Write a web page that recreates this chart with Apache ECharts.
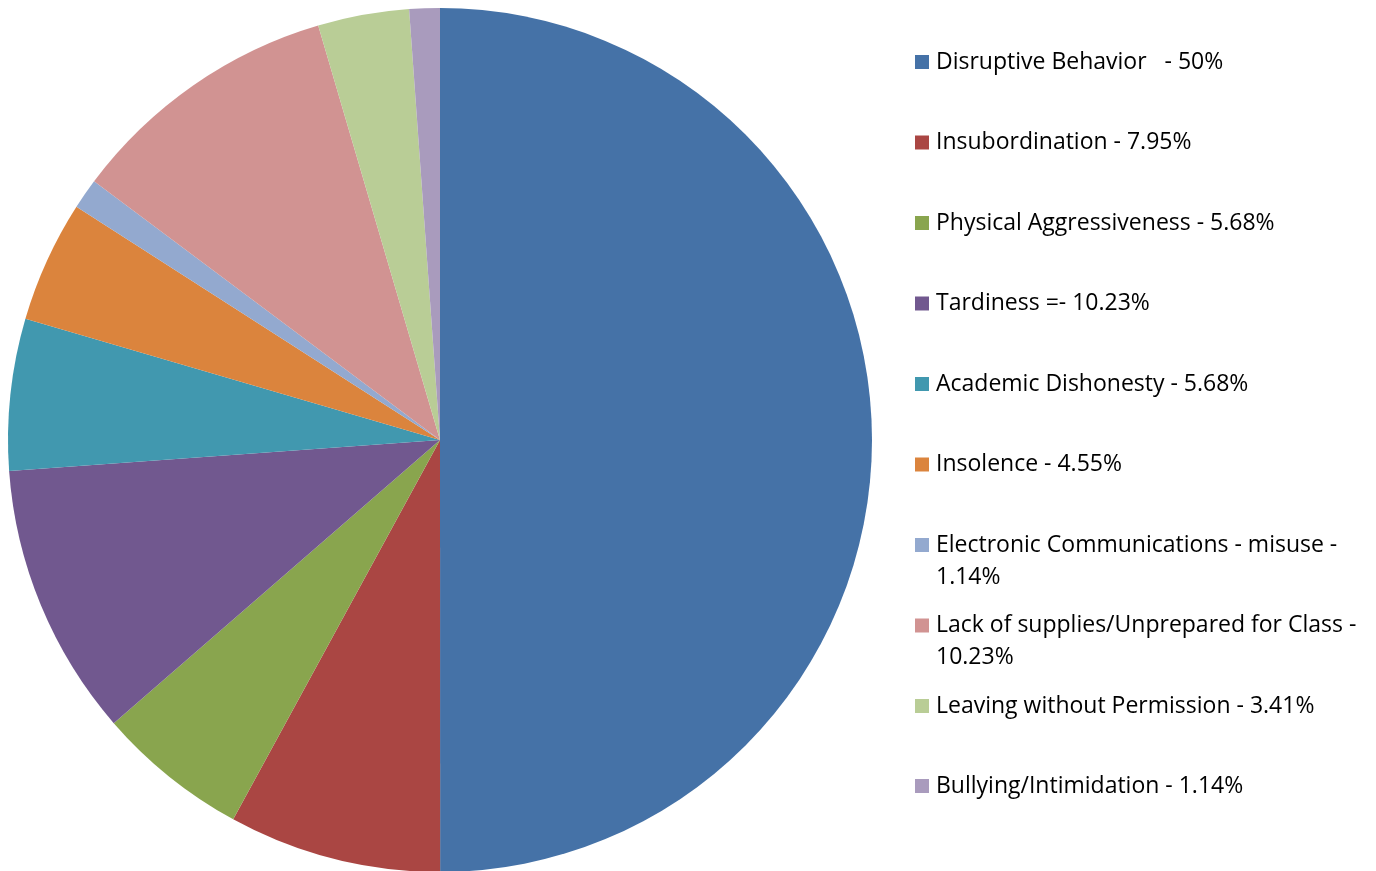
<!DOCTYPE html>
<html><head><meta charset="utf-8">
<script src="https://cdn.jsdelivr.net/npm/echarts@6/dist/echarts.min.js"></script>
<style>html,body{margin:0;padding:0;background:#fff}#c{width:1376px;height:871px}</style>
</head><body><div id="c"></div>
<script>
const categories = [
  "Disruptive Behavior   - 50%",
  "Insubordination - 7.95%",
  "Physical Aggressiveness - 5.68%",
  "Tardiness =- 10.23%",
  "Academic Dishonesty - 5.68%",
  "Insolence - 4.55%",
  "Electronic Communications - misuse -\n1.14%",
  "Lack of supplies/Unprepared for Class -\n10.23%",
  "Leaving without Permission - 3.41%",
  "Bullying/Intimidation - 1.14%"
];
const values = [50, 7.95, 5.68, 10.23, 5.68, 4.55, 1.14, 10.23, 3.41, 1.14];
const colors = ["#4572A7","#AA4643","#89A54E","#71588F","#4198AF","#DB843D","#93A9CF","#D19392","#B9CD96","#A99BBD"];
const legendCenters = [62, 142.5, 223, 303.5, 384, 464.5, 545, 625.5, 706, 786];

const L = 32;
const fontFamily = "'Open Sans', Lato, sans-serif";
const legends = categories.map((name, i) => {
  const multi = name.indexOf("\n") >= 0;
  return {
    orient: "vertical",
    left: 915,
    top: multi ? legendCenters[i] - 1.5 * L : legendCenters[i] - L / 2,
    padding: 0,
    itemWidth: 14, itemHeight: 14, itemGap: 0,
    icon: "rect",
    selectedMode: false,
    formatter: n => (multi ? "\n" + n : n),
    textStyle: {
      fontFamily, fontSize: 23, color: "#000", lineHeight: L,
      padding: [0, 0, 0, 2]
    },
    data: [name]
  };
});

const chart = echarts.init(document.getElementById("c"), null, {renderer: "canvas"});
chart.setOption({
  animation: false,
  color: colors,
  legend: legends,
  series: [{
    type: "pie",
    center: [440, 440],
    radius: [0, 432],
    startAngle: 90,
    clockwise: true,
    label: {show: false},
    labelLine: {show: false},
    itemStyle: {borderWidth: 0},
    emphasis: {disabled: true},
    data: categories.map((n, i) => ({name: n, value: values[i]}))
  }]
});
</script></body></html>
